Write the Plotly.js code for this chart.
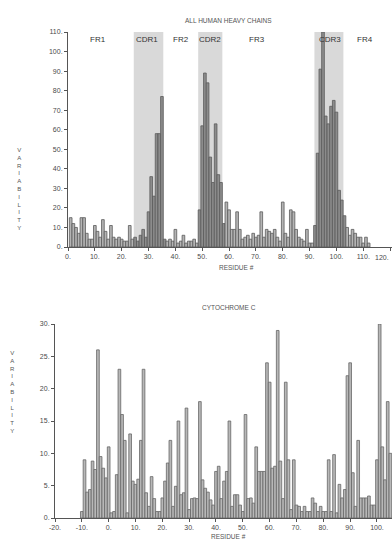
<!DOCTYPE html>
<html>
<head>
<meta charset="utf-8">
<script src="https://cdn.plot.ly/plotly-3.0.1.min.js"></script>
<style>
html,body{margin:0;padding:0;background:#fff;}
#chart{width:392px;height:546px;}
</style>
</head>
<body>
<div id="chart"></div>
<script>
// ---- Top chart: All human heavy chains (variability vs residue) ----
const heavyResidues = [];
for (let r = 1; r <= 112; r++) heavyResidues.push(r);
const heavyVariability = [
  15, 12, 10, 7, 15, 15, 7, 4, 4, 11,
  8, 5, 14, 8, 4, 11, 5, 4, 5, 4,
  3, 3, 11, 4, 5, 3, 6, 9, 5, 18,
  36, 26, 58, 58, 77, 4, 3, 4, 3, 9,
  2, 3, 6, 2, 3, 3, 4, 2, 19, 62,
  89, 84, 46, 33, 63, 37, 33, 12, 23, 19,
  9, 9, 18, 9, 4, 5, 6, 4, 7, 5,
  6, 18, 5, 9, 8, 7, 9, 5, 3, 23,
  7, 5, 19, 18, 9, 5, 4, 3, 9, 2,
  2, 11, 48, 91, 110, 67, 63, 72, 75, 69,
  29, 24, 16, 10, 6, 9, 7, 5, 5, 2,
  5, 2
];
const regionNames = ["FR1", "CDR1", "FR2", "CDR2", "FR3", "CDR3", "FR4"];
const regionStarts = [1, 24.5, 35.5, 48.5, 57.5, 91.8, 102.6];
const regionEnds   = [24.5, 35.5, 48.5, 57.5, 91.8, 102.6, 113];
const regionLabelX = [11, 29.5, 42, 53, 70.5, 97.5, 110.5];
const heavyXTicks = [0,10,20,30,40,50,60,70,80,90,100,110,120];
const heavyYTicks = [0,10,20,30,40,50,60,70,80,90,100,110];

// ---- Bottom chart: Cytochrome c ----
const cytoResidues = [];
for (let r = -10; r <= 105; r++) cytoResidues.push(r);
const cytoVariability = [
  1, 9, 4, 4.4, 8.8, 7.5, 26, 9.5, 7.7, 6.2,      // -10..-1
  11, 0.8, 1, 6.7, 23, 16, 12, 0.8, 13, 5.7,      // 0..9
  5.2, 6, 12, 23, 3.9, 1.8, 6.4, 3, 1, 1,         // 10..19
  3.1, 5.7, 8.5, 12, 1.8, 4.9, 15, 3.6, 3.9, 17,  // 20..29
  1.3, 3, 3.1, 3, 18, 5.9, 4.6, 4, 2.8, 2,        // 30..39
  7.2, 8, 3, 5.7, 7.2, 15, 1.8, 3.6, 3.6, 2,      // 40..49
  1, 16, 3, 3.1, 2.3, 11, 7.2, 7.2, 7.2, 24,      // 50..59
  21, 7.7, 8, 29, 8.8, 3, 21, 9, 1.3, 9,          // 60..69
  2, 1.8, 1, 1.8, 1, 1, 3.1, 2.3, 1, 1.8,         // 70..79
  1, 1, 9, 1, 9.8, 0.8, 5.2, 3.1, 4.4, 22,        // 80..89
  24, 7, 1.8, 12, 3.1, 3.1, 3.1, 3.4, 2, 2,       // 90..99
  9, 30, 11, 5.9, 18, 10                          // 100..105
];
const cytoXTicks = [-20,-10,0,10,20,30,40,50,60,70,80,90,100];
const cytoYTicks = [0,5,10,15,20,25,30];

// ---- build ----
const W = 392, H = 546;
const txt = '#4a4a4a';
const fontFam = 'Liberation Sans, Arial';
function lbl(v){ return v + '.'; }
function inCDR(x){
  for (let i = 0; i < regionNames.length; i++){
    if (regionNames[i].startsWith('CDR') && x >= regionStarts[i] && x < regionEnds[i]+0.6) return true;
  }
  return false;
}
const heavyColors = heavyResidues.map(x => inCDR(x) ? '#8c8c8c' : '#b4b4b4');

const traces = [
  {type:'bar', x:heavyResidues, y:heavyVariability, xaxis:'x', yaxis:'y', width:1,
   marker:{color:heavyColors, line:{color:'#5a5a5a', width:0.8}}, hoverinfo:'x+y'},
  {type:'bar', x:cytoResidues, y:cytoVariability, xaxis:'x2', yaxis:'y2', width:1,
   marker:{color:'#b8b8b8', line:{color:'#666', width:0.8}}, hoverinfo:'x+y'}
];

const shapes = [];
const annotations = [];
for (let i = 0; i < regionNames.length; i++){
  if (regionNames[i].startsWith('CDR')){
    shapes.push({type:'rect', xref:'x', yref:'y', x0:regionStarts[i], x1:regionEnds[i], y0:0, y1:111,
      fillcolor:'#d9d9d9', line:{width:0}, layer:'below'});
  }
  annotations.push({xref:'x', yref:'y', x:regionLabelX[i], y:106, text:regionNames[i], showarrow:false,
    font:{family:fontFam, size:8, color:'#333'}});
}
function stacked(s){ return s.split('').join('<br>'); }
annotations.push(
  {xref:'paper', yref:'paper', x:228/W, y:1-15/H, text:'ALL HUMAN HEAVY CHAINS', showarrow:false,
   font:{family:fontFam, size:6.5, color:'#555'}},
  {xref:'paper', yref:'paper', x:236/W, y:1-267/H, text:'RESIDUE #', showarrow:false,
   font:{family:fontFam, size:6.5, color:'#555'}},
  {xref:'paper', yref:'paper', x:15/W, y:1-145/H, text:stacked('VARIABILITY'), showarrow:false,
   font:{family:fontFam, size:6, color:'#555'}},
  {xref:'paper', yref:'paper', x:229/W, y:1-307/H, text:'CYTOCHROME C', showarrow:false,
   font:{family:fontFam, size:6.5, color:'#555'}},
  {xref:'paper', yref:'paper', x:229/W, y:1-542/H, text:'RESIDUE #', showarrow:false,
   font:{family:fontFam, size:6.5, color:'#555'}},
  {xref:'paper', yref:'paper', x:8/W, y:1-436/H, text:stacked('VARIABILITY'), showarrow:false,
   font:{family:fontFam, size:6, color:'#555'}},
  // last top tick label sits at the very right edge of the figure
  {xref:'paper', yref:'paper', x:391/W, y:1-252/H, yanchor:'top', xanchor:'right',
   text:lbl(heavyXTicks[heavyXTicks.length-1]), showarrow:false, font:{family:fontFam, size:7, color:txt}}
);

const axBase = {showgrid:false, zeroline:false, showline:true, linecolor:'#555', linewidth:1,
  ticks:'outside', ticklen:3, tickcolor:'#555', tickfont:{family:fontFam, size:7, color:txt},
  tickmode:'array', fixedrange:true};

const layout = {
  width:W, height:H, margin:{l:0, r:0, t:0, b:0}, showlegend:false,
  paper_bgcolor:'#fff', plot_bgcolor:'rgba(0,0,0,0)', bargap:0,
  xaxis: Object.assign({}, axBase, {domain:[68/W, 1], range:[0, 120.7], anchor:'y',
    tickvals:heavyXTicks, ticktext:heavyXTicks.map(lbl)}),
  yaxis: Object.assign({}, axBase, {domain:[1-247/H, 1-32/H], range:[0, 110], anchor:'x',
    tickvals:heavyYTicks, ticktext:heavyYTicks.map(lbl)}),
  xaxis2: Object.assign({}, axBase, {domain:[55/W, 1], range:[-20, 105.6], anchor:'y2',
    tickvals:cytoXTicks, ticktext:cytoXTicks.map(lbl)}),
  yaxis2: Object.assign({}, axBase, {domain:[1-518/H, 1-324/H], range:[0, 30], anchor:'x2',
    tickvals:cytoYTicks, ticktext:cytoYTicks.map(lbl)}),
  shapes: shapes,
  annotations: annotations
};

Plotly.newPlot('chart', traces, layout, {displayModeBar:false, staticPlot:true});
</script>
</body>
</html>
